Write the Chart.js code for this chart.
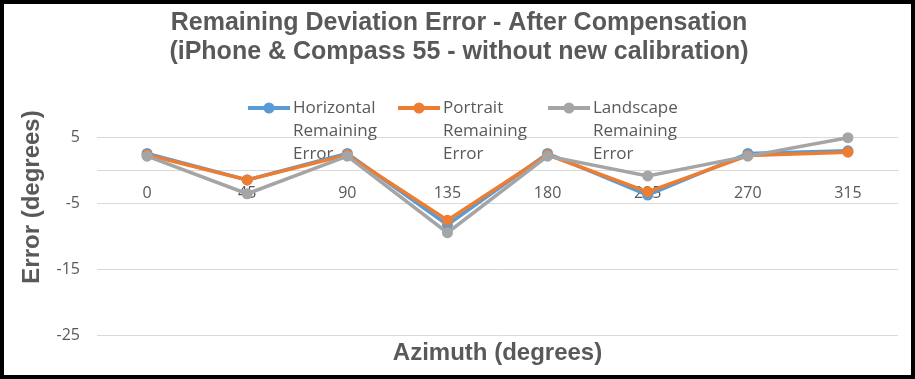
<!DOCTYPE html>
<html>
<head>
<meta charset="utf-8">
<script src="https://cdn.jsdelivr.net/npm/chart.js@4"></script>
<style>
  html, body { margin: 0; padding: 0; background: #fff; }
  #wrap { position: relative; width: 915px; height: 379px; }
  #wrap canvas { position: absolute; left: 0; top: 0; }
  #frame { position: absolute; left: 0; top: 0; width: 915px; height: 379px; box-sizing: border-box; border: 4px solid #000; pointer-events: none; }
</style>
</head>
<body>
<div id="wrap">
  <canvas id="chart" width="915" height="379"></canvas>
  <div id="frame"></div>
</div>
<script>
// values
const azimuths = ["0", "45", "90", "135", "180", "225", "270", "315"];
const horizontalErr = [2.5, -1.5, 2.5, -8.3, 2.5, -3.8, 2.5, 2.9];
const portraitErr = [2.3, -1.5, 2.3, -7.6, 2.3, -3.3, 2.2, 2.7];
const landscapeErr = [2.1, -3.6, 2.1, -9.5, 2.1, -0.9, 2.1, 4.9];
const yTicks = [-25, -15, -5, 5];

const titleLines = [
  "Remaining Deviation Error - After Compensation",
  "(iPhone & Compass 55 - without new calibration)"
];
const legendItems = [
  { lines: ["Horizontal", "Remaining", "Error"], color: "#5B9BD5", x: 248 },
  { lines: ["Portrait", "Remaining", "Error"], color: "#ED7D31", x: 398 },
  { lines: ["Landscape", "Remaining", "Error"], color: "#A5A5A5", x: 548 }
];

const textColor = "#595959";
const gridColor = "#D9D9D9";

// titles + wrapped legend drawn by hand, legend sits under the lines like in Excel
const decorations = {
  id: "decorations",
  beforeDatasetsDraw(chart) {
    const ctx = chart.ctx;
    ctx.save();
    ctx.font = "17px 'Open Sans'";
    ctx.textBaseline = "middle";
    ctx.textAlign = "left";
    legendItems.forEach(item => {
      const y = 108;
      ctx.strokeStyle = item.color;
      ctx.lineWidth = 4;
      ctx.beginPath();
      ctx.moveTo(item.x, y);
      ctx.lineTo(item.x + 42, y);
      ctx.stroke();
      ctx.fillStyle = item.color;
      ctx.beginPath();
      ctx.arc(item.x + 21, y, 5.5, 0, Math.PI * 2);
      ctx.fill();
      ctx.fillStyle = textColor;
      item.lines.forEach((line, i) => {
        ctx.fillText(line, item.x + 45, y + i * 23);
      });
    });
    ctx.restore();
  },
  afterDraw(chart) {
    const ctx = chart.ctx;
    const area = chart.chartArea;
    ctx.save();
    ctx.fillStyle = textColor;
    ctx.textAlign = "center";
    ctx.textBaseline = "middle";
    ctx.font = "bold 25px 'Liberation Sans'";
    ctx.fillText(titleLines[0], 459, 23);
    ctx.fillText(titleLines[1], 459, 52);

    ctx.font = "bold 24px 'Liberation Sans'";
    ctx.fillText("Azimuth (degrees)", (area.left + area.right) / 2, 353);

    ctx.translate(32, 197);
    ctx.rotate(-Math.PI / 2);
    ctx.fillText("Error (degrees)", 0, 0);
    ctx.restore();
  }
};

const makeSet = (label, data, color, order) => ({
  label,
  data,
  order,
  clip: false,
  borderColor: color,
  backgroundColor: color,
  borderWidth: 3.5,
  pointRadius: 5.5,
  pointHoverRadius: 5.5,
  pointBorderWidth: 0,
  tension: 0
});

new Chart(document.getElementById("chart"), {
  type: "line",
  data: {
    labels: azimuths,
    datasets: [
      makeSet("Horizontal Remaining Error", horizontalErr, "#5B9BD5", 3),
      makeSet("Portrait Remaining Error", portraitErr, "#ED7D31", 2),
      makeSet("Landscape Remaining Error", landscapeErr, "#A5A5A5", 1)
    ]
  },
  options: {
    responsive: false,
    animation: false,
    layout: { padding: { top: 137, bottom: 44, left: 37, right: 17 } },
    plugins: {
      legend: { display: false },
      title: { display: false },
      tooltip: { enabled: false }
    },
    scales: {
      x: {
        type: "category",
        offset: true,
        position: { y: 0 },
        grid: { display: false, drawTicks: false },
        border: { display: true, color: gridColor, width: 1 },
        ticks: {
          color: textColor,
          font: { family: "'Open Sans'", size: 16 },
          padding: 14,
          maxRotation: 0,
          autoSkip: false
        }
      },
      y: {
        min: -25,
        max: 5,
        afterFit: s => { s.width = 60; },
        afterBuildTicks: s => { s.ticks = yTicks.map(v => ({ value: v })); },
        grid: { color: gridColor, lineWidth: 1, drawTicks: false },
        border: { display: false },
        ticks: {
          color: textColor,
          font: { family: "'Open Sans'", size: 16 },
          padding: 17
        }
      }
    }
  },
  plugins: [decorations]
});
</script>
</body>
</html>
